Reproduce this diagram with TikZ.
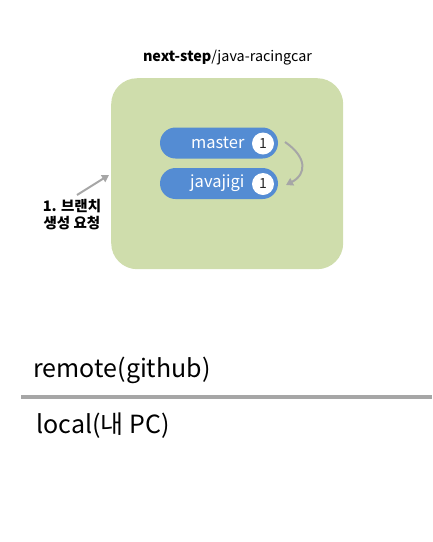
\documentclass[tikz,border=0pt]{standalone}
\usepackage{fontspec}
\setmainfont{Noto Sans CJK KR}
\usetikzlibrary{arrows.meta,shapes.misc}
\definecolor{boxgreen}{HTML}{CFDDAC}
\definecolor{pillblue}{HTML}{548CD3}
\definecolor{arrgray}{HTML}{A6A6A6}
\begin{document}
\begin{tikzpicture}[x=1pt,y=-1pt,
  pill/.style={rounded rectangle, fill=pillblue, minimum width=118pt, minimum height=31pt, inner sep=0pt},
  cnt/.style={circle, fill=white, minimum size=22pt, inner sep=0pt, font=\fontsize{14}{15}\selectfont, text=black!85},
  lbl/.style={text=white, font=\fontsize{16.5}{18}\selectfont, anchor=east},
  garrow/.style={draw=arrgray, line width=2pt, -{Triangle[length=7pt,width=8pt]}}
]
\useasboundingbox (0,0) rectangle (432,542);
\node[draw=none, fill=boxgreen, rounded corners=26pt, minimum width=232pt, minimum height=191pt, anchor=north west, inner sep=0pt] (repo) at (111,78) {};
\node[font=\fontsize{14.4}{16}\selectfont] (title) at (227.5,58) {\textbf{next-step}/java-racingcar};
\node[pill] (master) at (219,143) {};
\node[pill] (javajigi) at (219,183.5) {};
\node[lbl] (mtxt) at (248,143) {master};
\node[lbl] (jtxt) at (248,183.5) {javajigi};
\node[cnt] (mc) at (263,143.5) {1};
\node[cnt] (jc) at (263,184) {1};
\coordinate (cs) at (285,142);
\coordinate (ce) at (286,185);
\draw[garrow] (cs) .. controls (307,157) and (307,174) .. (ce);
\node[align=center, font=\fontsize{14.5}{17}\selectfont\bfseries] (req) at (72,215) {1. 브랜치\\생성 요청};
\coordinate (as) at (77,195);
\coordinate (ae) at (109,175);
\draw[garrow] (as) -- (ae);
\node[anchor=west, font=\fontsize{25}{28}\selectfont] (remote) at (30,370) {remote(github)};
\coordinate (l1) at (21,397);
\coordinate (l2) at (432,397);
\draw[arrgray, line width=4pt] (l1) -- (l2);
\node[anchor=west, font=\fontsize{25}{28}\selectfont] (local) at (33,426) {local(내 PC)};
\end{tikzpicture}
\end{document}
